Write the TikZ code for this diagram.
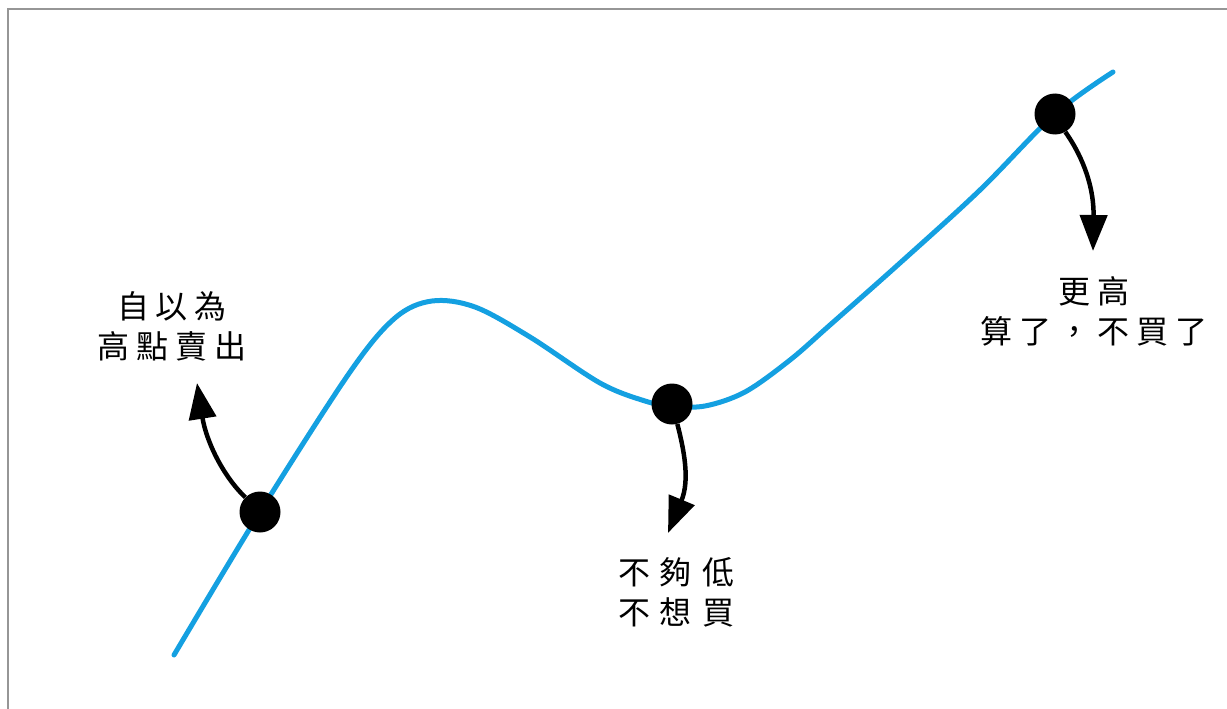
\documentclass[tikz,border=0pt]{standalone}
\usepackage{fontspec}
\newfontfamily\cjk{Noto Sans CJK TC}
\usetikzlibrary{arrows.meta}
\definecolor{curveblue}{RGB}{20,160,225}
\definecolor{framegray}{RGB}{150,150,150}
\newcommand\gp{\hspace{7pt}}
\newcommand\gpw{\hspace{10pt}}
\begin{document}
\begin{tikzpicture}[x=1pt,y=-1pt,
  dot/.style={circle,fill=black,inner sep=0pt,minimum size=41pt},
  arr/.style={line width=4.5pt,-{Triangle[width=27pt,length=36pt]}},
  lbl/.style={font=\cjk\fontsize{32}{40}\selectfont,align=center,inner sep=0pt}]
\useasboundingbox (0,0) rectangle (1227,709);
\draw[framegray,line width=1.5pt] (8,709) -- (8,9) -- (1227,9);
\draw[curveblue,line width=5pt,line cap=round] plot[smooth,tension=0.55] coordinates {
 (174,655) (260,512) (350,372) (395,318) (432,301) (475,307) (530,337) (600,383) (645,401) (672,406) (705,406) (745,392) (790,360) (830,325) (900,263) (980,190) (1055,114) (1113,72)};
\node[dot] (d1) at (260,512) {};
\node[dot] (d2) at (672,404) {};
\node[dot] (d3) at (1055,114) {};
\coordinate (t1) at (197,383);
\coordinate (t2) at (668,533);
\coordinate (t3) at (1093,251);
\draw[arr] (d1.135) .. controls (222,475) and (206,440) .. (t1);
\draw[arr] (d2.285) .. controls (684,450) and (690,480) .. (t2);
\draw[arr] (d3.300) .. controls (1085,160) and (1094,190) .. (t3);
\node[lbl] (l1) at (172,326) {自\gp 以\gp 為\\高\gp 點\gp 賣\gp 出};
\node[lbl] (l2) at (676,592) {不\gpw 夠\gpw 低\\不\gpw 想\gpw 買};
\node[lbl] (l3) at (1094,311) {更\gp 高\\算\gp 了\gp ，\gp 不\gp 買\gp 了};
\end{tikzpicture}
\end{document}
